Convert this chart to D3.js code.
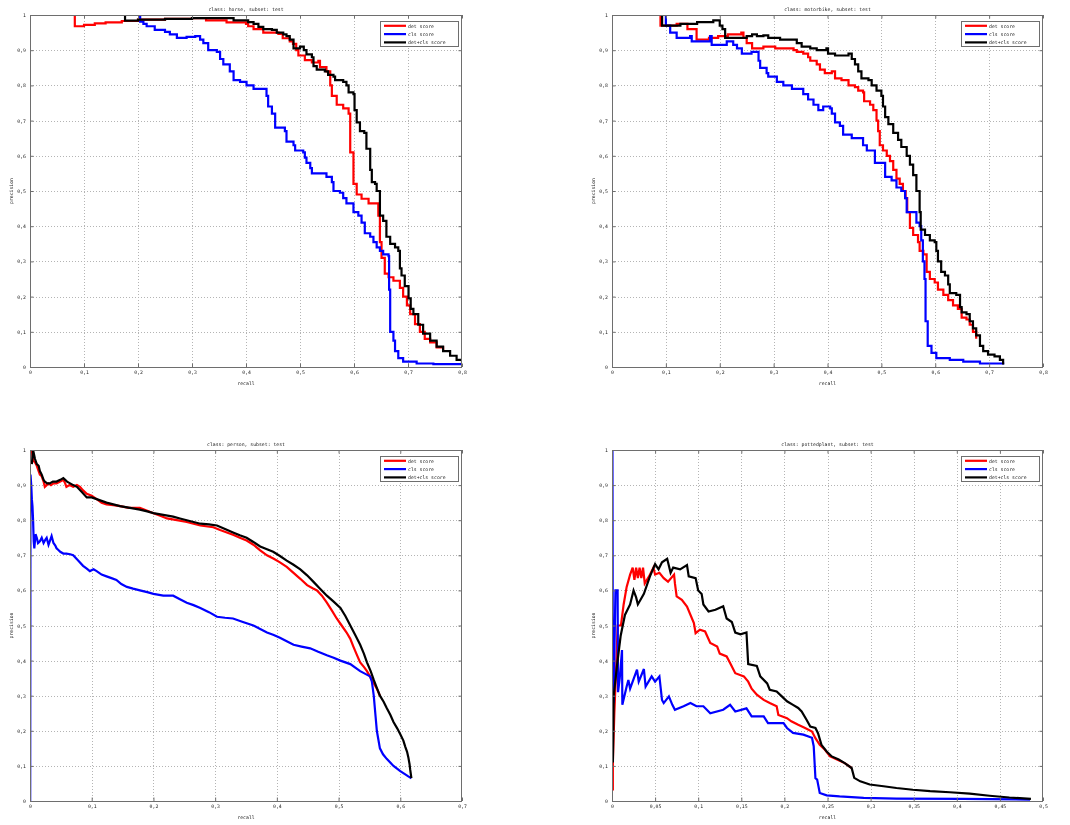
<!DOCTYPE html>
<html>
<head>
<meta charset="utf-8">
<script src="https://cdn.jsdelivr.net/npm/d3@7"></script>
<style>
  body { margin: 0; background: #fff; }
  svg { will-change: transform; }
  text { font-family: "DejaVu Sans Mono", "Liberation Mono", monospace; fill: #222; }
</style>
</head>
<body>
<svg id="fig" width="1070" height="825"></svg>
<script>
// Precision/recall curves, [recall, precision] pairs per scoring method.

// class: horse
const horseDet = [[0,1],[0.083,0.968],[0.1,0.972],[0.12,0.976],[0.14,0.979],[0.17,0.983],[0.2,0.987],[0.25,0.989],[0.3,0.991],[0.326,0.985],[0.364,0.979],[0.4,0.975],[0.404,0.968],[0.414,0.96],[0.432,0.95],[0.46,0.946],[0.468,0.934],[0.481,0.925],[0.487,0.918],[0.493,0.9],[0.497,0.885],[0.509,0.872],[0.522,0.865],[0.534,0.87],[0.537,0.852],[0.549,0.84],[0.556,0.8],[0.559,0.77],[0.568,0.745],[0.58,0.735],[0.59,0.72],[0.593,0.61],[0.599,0.52],[0.605,0.49],[0.614,0.478],[0.627,0.465],[0.645,0.43],[0.648,0.355],[0.651,0.31],[0.657,0.265],[0.664,0.255],[0.673,0.245],[0.685,0.225],[0.691,0.2],[0.698,0.175],[0.704,0.15],[0.713,0.122],[0.722,0.1],[0.731,0.08],[0.741,0.07],[0.753,0.056],[0.765,0.044]];
const horseCls = [[0,1],[0.204,0.981],[0.21,0.975],[0.216,0.968],[0.231,0.958],[0.25,0.952],[0.259,0.945],[0.272,0.935],[0.29,0.938],[0.306,0.94],[0.315,0.93],[0.321,0.92],[0.33,0.9],[0.346,0.895],[0.352,0.875],[0.358,0.86],[0.37,0.84],[0.377,0.815],[0.389,0.81],[0.401,0.8],[0.414,0.79],[0.435,0.79],[0.438,0.77],[0.441,0.74],[0.448,0.72],[0.454,0.68],[0.472,0.67],[0.475,0.64],[0.488,0.63],[0.491,0.615],[0.506,0.61],[0.509,0.595],[0.512,0.58],[0.519,0.565],[0.522,0.55],[0.54,0.55],[0.549,0.54],[0.559,0.525],[0.562,0.5],[0.574,0.495],[0.58,0.48],[0.586,0.465],[0.599,0.44],[0.608,0.43],[0.614,0.41],[0.62,0.38],[0.63,0.37],[0.636,0.355],[0.642,0.34],[0.648,0.33],[0.654,0.32],[0.664,0.315],[0.665,0.22],[0.667,0.1],[0.673,0.075],[0.676,0.045],[0.682,0.025],[0.691,0.015],[0.716,0.01],[0.747,0.008],[0.8,0.006]];
const horseBoth = [[0,1],[0.176,0.984],[0.2,0.987],[0.25,0.989],[0.3,0.991],[0.377,0.985],[0.404,0.98],[0.414,0.975],[0.423,0.966],[0.432,0.96],[0.448,0.958],[0.457,0.95],[0.469,0.945],[0.475,0.94],[0.481,0.93],[0.488,0.905],[0.5,0.91],[0.507,0.9],[0.512,0.888],[0.522,0.88],[0.525,0.855],[0.531,0.845],[0.546,0.84],[0.552,0.83],[0.562,0.825],[0.565,0.815],[0.58,0.81],[0.586,0.8],[0.59,0.78],[0.599,0.775],[0.601,0.73],[0.605,0.695],[0.611,0.67],[0.619,0.665],[0.623,0.62],[0.63,0.56],[0.633,0.525],[0.639,0.52],[0.642,0.5],[0.648,0.43],[0.654,0.415],[0.66,0.37],[0.667,0.35],[0.676,0.34],[0.682,0.33],[0.685,0.28],[0.688,0.26],[0.694,0.23],[0.701,0.195],[0.705,0.165],[0.71,0.15],[0.719,0.12],[0.728,0.095],[0.741,0.075],[0.753,0.058],[0.765,0.045],[0.778,0.032],[0.79,0.02],[0.8,0.006]];

// class: motorbike
const motoDet = [[0,1],[0.09,0.97],[0.12,0.975],[0.14,0.96],[0.157,0.93],[0.18,0.935],[0.197,0.94],[0.215,0.945],[0.24,0.95],[0.244,0.935],[0.25,0.92],[0.26,0.905],[0.281,0.91],[0.303,0.905],[0.337,0.9],[0.343,0.895],[0.355,0.89],[0.364,0.88],[0.368,0.87],[0.38,0.86],[0.386,0.845],[0.395,0.835],[0.408,0.84],[0.414,0.82],[0.426,0.815],[0.439,0.8],[0.451,0.795],[0.457,0.785],[0.466,0.78],[0.468,0.755],[0.479,0.745],[0.485,0.73],[0.491,0.7],[0.494,0.67],[0.497,0.63],[0.503,0.615],[0.51,0.6],[0.516,0.585],[0.522,0.56],[0.528,0.535],[0.534,0.52],[0.54,0.5],[0.545,0.48],[0.548,0.44],[0.553,0.395],[0.559,0.375],[0.568,0.355],[0.571,0.33],[0.578,0.32],[0.584,0.27],[0.59,0.25],[0.599,0.24],[0.605,0.22],[0.615,0.205],[0.624,0.19],[0.633,0.175],[0.642,0.165],[0.649,0.14],[0.658,0.135],[0.664,0.12],[0.67,0.1],[0.676,0.08]];
const motoCls = [[0,1],[0.1,0.97],[0.108,0.95],[0.12,0.935],[0.145,0.94],[0.148,0.925],[0.182,0.94],[0.185,0.915],[0.213,0.925],[0.225,0.915],[0.232,0.905],[0.241,0.89],[0.259,0.895],[0.272,0.87],[0.275,0.85],[0.287,0.835],[0.29,0.825],[0.306,0.81],[0.318,0.8],[0.334,0.79],[0.349,0.79],[0.355,0.775],[0.364,0.76],[0.374,0.745],[0.383,0.73],[0.392,0.74],[0.405,0.735],[0.408,0.72],[0.414,0.695],[0.423,0.685],[0.429,0.66],[0.445,0.65],[0.46,0.65],[0.466,0.63],[0.473,0.615],[0.485,0.615],[0.488,0.58],[0.5,0.58],[0.507,0.54],[0.519,0.53],[0.528,0.51],[0.537,0.5],[0.544,0.48],[0.547,0.44],[0.559,0.44],[0.565,0.41],[0.571,0.4],[0.574,0.36],[0.577,0.3],[0.58,0.25],[0.582,0.13],[0.586,0.06],[0.593,0.04],[0.602,0.025],[0.627,0.02],[0.652,0.015],[0.683,0.01],[0.726,0.007]];
const motoBoth = [[0,1],[0.093,0.97],[0.127,0.975],[0.158,0.98],[0.188,0.985],[0.2,0.97],[0.205,0.96],[0.21,0.935],[0.25,0.94],[0.26,0.945],[0.269,0.94],[0.281,0.942],[0.29,0.935],[0.312,0.93],[0.337,0.93],[0.343,0.92],[0.352,0.91],[0.368,0.905],[0.38,0.9],[0.398,0.905],[0.401,0.89],[0.414,0.885],[0.439,0.89],[0.445,0.875],[0.451,0.86],[0.457,0.84],[0.463,0.82],[0.476,0.815],[0.482,0.8],[0.491,0.785],[0.5,0.77],[0.503,0.74],[0.507,0.71],[0.513,0.69],[0.522,0.665],[0.531,0.645],[0.537,0.625],[0.547,0.6],[0.553,0.575],[0.559,0.545],[0.565,0.5],[0.571,0.44],[0.573,0.39],[0.581,0.375],[0.59,0.36],[0.599,0.355],[0.602,0.33],[0.605,0.3],[0.611,0.27],[0.618,0.26],[0.624,0.235],[0.627,0.21],[0.639,0.205],[0.646,0.17],[0.649,0.155],[0.658,0.15],[0.664,0.13],[0.67,0.11],[0.676,0.09],[0.683,0.06],[0.689,0.045],[0.698,0.035],[0.71,0.03],[0.72,0.02],[0.726,0.007]];

// class: person
const personDet = [[0.003,1],[0.005,0.97],[0.008,0.965],[0.011,0.955],[0.014,0.94],[0.016,0.93],[0.019,0.925],[0.022,0.91],[0.024,0.895],[0.027,0.9],[0.03,0.905],[0.034,0.9],[0.038,0.905],[0.043,0.905],[0.049,0.91],[0.054,0.915],[0.057,0.905],[0.059,0.895],[0.064,0.9],[0.07,0.895],[0.076,0.9],[0.081,0.895],[0.086,0.885],[0.092,0.875],[0.1,0.87],[0.108,0.86],[0.116,0.85],[0.124,0.845],[0.135,0.843],[0.146,0.84],[0.16,0.835],[0.178,0.835],[0.19,0.827],[0.2,0.82],[0.212,0.812],[0.222,0.805],[0.238,0.8],[0.254,0.795],[0.265,0.79],[0.276,0.785],[0.297,0.78],[0.308,0.772],[0.319,0.765],[0.33,0.758],[0.34,0.75],[0.351,0.742],[0.362,0.73],[0.373,0.714],[0.384,0.7],[0.395,0.69],[0.405,0.68],[0.416,0.667],[0.427,0.65],[0.438,0.633],[0.449,0.615],[0.458,0.606],[0.465,0.6],[0.473,0.585],[0.481,0.565],[0.489,0.543],[0.497,0.52],[0.505,0.5],[0.513,0.48],[0.519,0.462],[0.524,0.44],[0.53,0.415],[0.535,0.395],[0.541,0.382],[0.546,0.37],[0.554,0.345],[0.562,0.32],[0.567,0.3]];
const personCls = [[0.0003,0],[0.0008,0.93],[0.002,0.9],[0.003,0.86],[0.004,0.84],[0.005,0.8],[0.006,0.74],[0.007,0.72],[0.009,0.76],[0.011,0.75],[0.013,0.735],[0.016,0.74],[0.019,0.75],[0.022,0.735],[0.025,0.745],[0.027,0.75],[0.03,0.73],[0.032,0.74],[0.035,0.755],[0.038,0.735],[0.041,0.728],[0.043,0.72],[0.046,0.715],[0.049,0.71],[0.054,0.705],[0.059,0.705],[0.065,0.703],[0.07,0.7],[0.078,0.685],[0.086,0.67],[0.092,0.662],[0.097,0.655],[0.103,0.66],[0.108,0.655],[0.116,0.645],[0.124,0.64],[0.132,0.635],[0.14,0.63],[0.148,0.618],[0.157,0.61],[0.167,0.605],[0.178,0.6],[0.19,0.595],[0.2,0.59],[0.216,0.585],[0.232,0.585],[0.243,0.575],[0.254,0.565],[0.265,0.558],[0.276,0.55],[0.29,0.538],[0.303,0.525],[0.316,0.522],[0.329,0.52],[0.345,0.51],[0.362,0.5],[0.373,0.49],[0.384,0.48],[0.395,0.473],[0.405,0.465],[0.416,0.455],[0.427,0.445],[0.44,0.44],[0.454,0.435],[0.467,0.425],[0.481,0.415],[0.492,0.408],[0.503,0.4],[0.519,0.39],[0.535,0.37],[0.551,0.355],[0.554,0.34],[0.557,0.3],[0.56,0.24],[0.562,0.2],[0.567,0.15],[0.572,0.133],[0.578,0.12],[0.589,0.1],[0.6,0.085],[0.613,0.07],[0.618,0.065]];
const personBoth = [[0.003,0.96],[0.005,1],[0.008,0.975],[0.011,0.96],[0.014,0.955],[0.016,0.94],[0.019,0.93],[0.022,0.915],[0.024,0.91],[0.028,0.905],[0.032,0.905],[0.037,0.91],[0.043,0.91],[0.049,0.915],[0.054,0.92],[0.06,0.91],[0.065,0.905],[0.07,0.9],[0.076,0.895],[0.084,0.88],[0.092,0.865],[0.1,0.865],[0.108,0.86],[0.116,0.855],[0.124,0.85],[0.135,0.845],[0.146,0.84],[0.162,0.835],[0.178,0.83],[0.19,0.825],[0.2,0.82],[0.216,0.815],[0.232,0.81],[0.243,0.805],[0.254,0.8],[0.265,0.795],[0.276,0.79],[0.29,0.788],[0.303,0.785],[0.316,0.775],[0.329,0.765],[0.34,0.757],[0.351,0.75],[0.362,0.738],[0.373,0.725],[0.384,0.717],[0.394,0.71],[0.405,0.698],[0.416,0.685],[0.427,0.673],[0.438,0.66],[0.449,0.643],[0.459,0.625],[0.47,0.605],[0.481,0.585],[0.492,0.568],[0.503,0.55],[0.511,0.527],[0.519,0.5],[0.527,0.473],[0.535,0.445],[0.541,0.42],[0.546,0.395],[0.552,0.37],[0.557,0.345],[0.562,0.322],[0.567,0.3],[0.573,0.283],[0.578,0.265],[0.584,0.245],[0.589,0.225],[0.595,0.207],[0.6,0.19],[0.605,0.172],[0.608,0.155],[0.611,0.14],[0.613,0.125],[0.615,0.105],[0.616,0.09],[0.618,0.065]];

// class: pottedplant
const plantDet = [[0.001,0.03],[0.001,0.11],[0.0027,0.25],[0.005,0.39],[0.0066,0.5],[0.0104,0.5],[0.0135,0.56],[0.017,0.61],[0.021,0.645],[0.024,0.665],[0.026,0.63],[0.028,0.665],[0.03,0.635],[0.032,0.665],[0.034,0.635],[0.036,0.665],[0.038,0.62],[0.043,0.64],[0.048,0.665],[0.05,0.645],[0.055,0.65],[0.06,0.635],[0.065,0.625],[0.072,0.645],[0.073,0.62],[0.075,0.583],[0.081,0.573],[0.087,0.554],[0.095,0.507],[0.097,0.478],[0.102,0.488],[0.108,0.483],[0.114,0.45],[0.122,0.44],[0.125,0.42],[0.133,0.412],[0.137,0.393],[0.143,0.364],[0.153,0.355],[0.158,0.34],[0.162,0.32],[0.168,0.303],[0.176,0.288],[0.183,0.279],[0.191,0.27],[0.193,0.245],[0.203,0.236],[0.208,0.227],[0.216,0.217],[0.224,0.208],[0.232,0.198],[0.236,0.179],[0.241,0.16],[0.247,0.146],[0.253,0.127],[0.261,0.118],[0.27,0.108],[0.278,0.094]];
const plantCls = [[0.0005,1],[0.001,0.33],[0.002,0.28],[0.003,0.45],[0.004,0.6],[0.0065,0.6],[0.007,0.31],[0.009,0.35],[0.0116,0.43],[0.012,0.274],[0.017,0.326],[0.019,0.345],[0.021,0.32],[0.029,0.374],[0.031,0.34],[0.037,0.376],[0.039,0.326],[0.046,0.355],[0.05,0.34],[0.055,0.355],[0.058,0.288],[0.06,0.279],[0.066,0.298],[0.07,0.274],[0.073,0.26],[0.083,0.27],[0.091,0.279],[0.098,0.27],[0.106,0.27],[0.114,0.25],[0.129,0.26],[0.137,0.274],[0.143,0.255],[0.156,0.264],[0.162,0.241],[0.176,0.241],[0.181,0.222],[0.199,0.222],[0.203,0.208],[0.21,0.194],[0.222,0.189],[0.232,0.18],[0.234,0.156],[0.236,0.065],[0.238,0.061],[0.241,0.023],[0.249,0.016],[0.264,0.013],[0.292,0.009],[0.33,0.007],[0.407,0.006],[0.485,0.004]];
const plantBoth = [[0.001,0.11],[0.002,0.3],[0.006,0.39],[0.01,0.47],[0.015,0.53],[0.021,0.56],[0.025,0.6],[0.028,0.58],[0.03,0.56],[0.037,0.59],[0.044,0.64],[0.05,0.675],[0.054,0.66],[0.058,0.68],[0.064,0.69],[0.068,0.65],[0.071,0.665],[0.079,0.66],[0.087,0.672],[0.089,0.64],[0.097,0.635],[0.1,0.6],[0.104,0.59],[0.106,0.56],[0.112,0.54],[0.12,0.545],[0.129,0.555],[0.133,0.52],[0.139,0.51],[0.143,0.48],[0.149,0.475],[0.156,0.48],[0.158,0.39],[0.168,0.385],[0.172,0.355],[0.18,0.335],[0.183,0.317],[0.191,0.312],[0.197,0.298],[0.203,0.284],[0.21,0.274],[0.216,0.265],[0.22,0.255],[0.226,0.23],[0.23,0.212],[0.236,0.208],[0.239,0.193],[0.243,0.16],[0.249,0.141],[0.255,0.127],[0.263,0.118],[0.27,0.108],[0.278,0.094],[0.281,0.066],[0.288,0.056],[0.299,0.047],[0.315,0.042],[0.33,0.037],[0.349,0.032],[0.369,0.028],[0.392,0.025],[0.415,0.021],[0.438,0.015],[0.461,0.01],[0.486,0.006]];

// Axis ticks
const yTicks = [0,0.1,0.2,0.3,0.4,0.5,0.6,0.7,0.8,0.9,1];
const xTicks08 = [0,0.1,0.2,0.3,0.4,0.5,0.6,0.7,0.8];
const xTicks07 = [0,0.1,0.2,0.3,0.4,0.5,0.6,0.7];
const xTicks05 = [0,0.05,0.1,0.15,0.2,0.25,0.3,0.35,0.4,0.45,0.5];

const legendLabels = ["det score", "cls score", "det+cls score"];
const seriesColors = ["#ff0000", "#0000ff", "#000000"];

const panels = [
  { title: "class: horse, subset: test", xTicks: xTicks08, series: [horseDet, horseCls, horseBoth], step: true,
    box: { left: 30, top: 15, right: 462, bottom: 367 } },
  { title: "class: motorbike, subset: test", xTicks: xTicks08, series: [motoDet, motoCls, motoBoth], step: true,
    box: { left: 612, top: 15, right: 1043, bottom: 367 } },
  { title: "class: person, subset: test", xTicks: xTicks07, series: [personDet, personCls, personBoth], step: false,
    box: { left: 30, top: 450, right: 462, bottom: 801 } },
  { title: "class: pottedplant, subset: test", xTicks: xTicks05, series: [plantDet, plantCls, plantBoth], step: false,
    box: { left: 612, top: 450, right: 1043, bottom: 801 } }
];

const svg = d3.select("#fig");
const FS = 4.8;           // tiny figure font
const TICK = 3.5;         // inward tick length

// decimal comma labels, MATLAB style
const fmt = d => (d === 0 ? "0" : d === 1 ? "1" : String(+d.toFixed(2)).replace(".", ","));

panels.forEach((p, i) => {
  const b = p.box;
  const xMax = p.xTicks[p.xTicks.length - 1];
  const x = d3.scaleLinear().domain([0, xMax]).range([b.left, b.right]);
  const y = d3.scaleLinear().domain([0, 1]).range([b.bottom, b.top]);
  const g = svg.append("g");

  g.append("rect").attr("x", b.left).attr("y", b.top)
    .attr("width", b.right - b.left).attr("height", b.bottom - b.top).attr("fill", "#fff");

  // dotted grid
  const grid = g.append("g").attr("stroke", "#b4b4b4").attr("stroke-width", 1).attr("stroke-dasharray", "1,2");
  grid.selectAll(".gx").data(p.xTicks.slice(1, -1)).join("line")
    .attr("x1", d => Math.round(x(d)) + 0.5).attr("x2", d => Math.round(x(d)) + 0.5)
    .attr("y1", b.top).attr("y2", b.bottom);
  grid.selectAll(".gy").data(yTicks.slice(1, -1)).join("line")
    .attr("y1", d => Math.round(y(d)) + 0.5).attr("y2", d => Math.round(y(d)) + 0.5)
    .attr("x1", b.left).attr("x2", b.right);

  // curves
  const clipId = "clip" + i;
  svg.append("clipPath").attr("id", clipId).append("rect")
    .attr("x", b.left).attr("y", b.top).attr("width", b.right - b.left).attr("height", b.bottom - b.top);
  const line = d3.line().x(d => x(d[0])).y(d => y(d[1]))
    .curve(p.step ? d3.curveStepAfter : d3.curveLinear);
  const curves = g.append("g").attr("clip-path", `url(#${clipId})`);
  p.series.forEach((s, k) => {
    curves.append("path").datum(s).attr("d", line)
      .attr("fill", "none").attr("stroke", seriesColors[k]).attr("stroke-width", 2.2)
      .attr("stroke-linejoin", "miter");
  });

  // axes with inward ticks on all four sides
  const style = sel => {
    sel.select(".domain").remove();
    sel.selectAll(".tick line").attr("stroke", "#6e6e6e");
    sel.selectAll("text").attr("font-size", FS).attr("fill", "#222")
      .attr("font-family", "DejaVu Sans Mono, monospace");
  };
  g.append("g").attr("transform", `translate(0,${b.bottom})`)
    .call(d3.axisBottom(x).tickValues(p.xTicks).tickSize(-TICK).tickPadding(4).tickFormat(fmt)).call(style);
  g.append("g").attr("transform", `translate(0,${b.top})`)
    .call(d3.axisTop(x).tickValues(p.xTicks).tickSize(-TICK).tickFormat("")).call(style);
  g.append("g").attr("transform", `translate(${b.left},0)`)
    .call(d3.axisLeft(y).tickValues(yTicks).tickSize(-TICK).tickPadding(4).tickFormat(fmt)).call(style);
  g.append("g").attr("transform", `translate(${b.right},0)`)
    .call(d3.axisRight(y).tickValues(yTicks).tickSize(-TICK).tickFormat("")).call(style);

  g.append("rect").attr("x", b.left + 0.5).attr("y", b.top + 0.5)
    .attr("width", b.right - b.left - 1).attr("height", b.bottom - b.top)
    .attr("fill", "none").attr("stroke", "#6e6e6e").attr("stroke-width", 1);

  // title and axis labels
  const cx = (b.left + b.right) / 2;
  g.append("text").attr("x", cx).attr("y", b.top - 4).attr("text-anchor", "middle")
    .attr("font-size", FS).text(p.title);
  g.append("text").attr("x", cx).attr("y", b.bottom + 18).attr("text-anchor", "middle")
    .attr("font-size", FS).text("recall");
  g.append("text").attr("transform", `translate(${b.left - 17},${(b.top + b.bottom) / 2}) rotate(-90)`)
    .attr("text-anchor", "middle").attr("font-size", FS).text("precision");

  // legend
  const lg = g.append("g").attr("transform", `translate(${b.right - 82},${b.top + 6})`);
  lg.append("rect").attr("x", 0.5).attr("y", 0.5).attr("width", 78).attr("height", 25)
    .attr("fill", "#fff").attr("stroke", "#6e6e6e").attr("stroke-width", 1);
  legendLabels.forEach((lab, k) => {
    const ly = 4.8 + k * 8.3;
    lg.append("line").attr("x1", 4).attr("x2", 26).attr("y1", ly).attr("y2", ly)
      .attr("stroke", seriesColors[k]).attr("stroke-width", 2.2);
    lg.append("text").attr("x", 28).attr("y", ly + 1.7).attr("font-size", FS).text(lab);
  });
});
</script>
</body>
</html>
